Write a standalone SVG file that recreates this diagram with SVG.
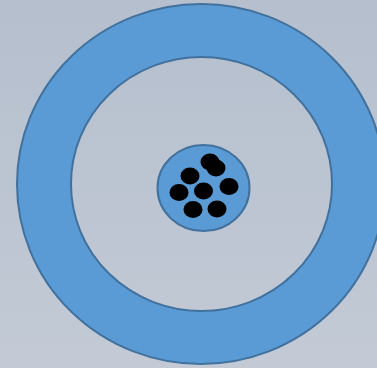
<svg xmlns="http://www.w3.org/2000/svg" width="377" height="368" viewBox="0 0 377 368">
<defs>
<linearGradient id="bg" x1="0" y1="0" x2="0" y2="1">
<stop offset="0" stop-color="#b5bfcd"/>
<stop offset="1" stop-color="#c3cad6"/>
</linearGradient>
<style>
.blue{fill:#5b9bd5;stroke:#41719c;stroke-width:2}
.dot{fill:#000}
</style>
</defs>
<rect width="377" height="368" fill="url(#bg)"/>
<g id="ring">
<path class="blue" fill-rule="evenodd" d="M17,184 A184,180 0 1,0 385,184 A184,180 0 1,0 17,184 Z M71,184 A130.5,127 0 1,1 332,184 A130.5,127 0 1,1 71,184 Z"/>
</g>
<g id="nucleus">
<ellipse class="blue" cx="203.5" cy="188" rx="46" ry="43"/>
<ellipse class="dot" cx="210" cy="162" rx="9.5" ry="8.5"/>
<ellipse class="dot" cx="216" cy="168" rx="9.5" ry="8.5"/>
<ellipse class="dot" cx="190" cy="176" rx="9.5" ry="8.5"/>
<ellipse class="dot" cx="179" cy="192.5" rx="9.5" ry="8.5"/>
<ellipse class="dot" cx="203.5" cy="191" rx="9.5" ry="8.5"/>
<ellipse class="dot" cx="229" cy="186.5" rx="9.5" ry="8.5"/>
<ellipse class="dot" cx="193" cy="209.5" rx="9.5" ry="8.5"/>
<ellipse class="dot" cx="217" cy="209" rx="9.5" ry="8.5"/>
</g>
</svg>
